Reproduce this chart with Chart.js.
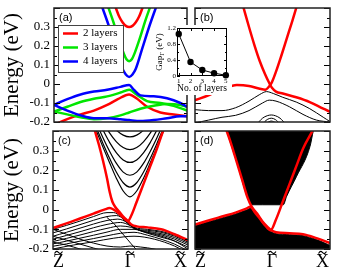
<!DOCTYPE html>
<html>
<head>
<meta charset="utf-8">
<script src="https://cdn.jsdelivr.net/npm/chart.js@4.4.0/dist/chart.umd.min.js"></script>
<style>
  html, body { margin: 0; padding: 0; background: #fff; }
  #wrap { position: relative; width: 340px; height: 273px; overflow: hidden; }
  canvas { position: absolute; }
</style>
</head>
<body>
<div id="wrap">
  <canvas id="pa" width="190" height="127" style="left:0;top:0"></canvas>
  <canvas id="pb" width="150" height="127" style="left:190px;top:0"></canvas>
  <canvas id="pc" width="190" height="146" style="left:0;top:127px"></canvas>
  <canvas id="pd" width="150" height="146" style="left:190px;top:127px"></canvas>
  <canvas id="inset" width="90" height="74" style="left:150px;top:22px"></canvas>
</div>
<script>
// k path Z~ -> Gamma~ -> X~, energies in eV
const kTicks = [0, 0.57, 1];
const kLetters = ['Z', '\u0393', 'X'];

const layerNames = ['2 layers', '3 layers', '4 layers'];
const layerColors = ['#ff0000', '#00e600', '#0000ff'];

// inset: gap at Gamma vs number of layers
const insetLayers = [1, 2, 3, 4, 5];
const insetGap = [1.05, 0.35, 0.15, 0.07, 0.02];

// (a) thin films, conduction + valence bands
const a2Cond = [[0.465,0.40],[0.49,0.355],[0.515,0.325],[0.54,0.306],[0.565,0.30],[0.59,0.306],[0.615,0.325],[0.64,0.355],[0.665,0.40]];
const a3Cond = [[0.405,0.41],[0.445,0.33],[0.485,0.24],[0.525,0.16],[0.545,0.13],[0.565,0.12],[0.585,0.13],[0.605,0.16],[0.645,0.24],[0.685,0.33],[0.725,0.41]];
const a4Cond = [[0.365,0.40],[0.415,0.30],[0.465,0.19],[0.515,0.08],[0.54,0.05],[0.565,0.037],[0.59,0.05],[0.615,0.08],[0.665,0.19],[0.715,0.30],[0.765,0.40]];
const a2Val = [[0,-0.215],[0.1,-0.185],[0.2,-0.16],[0.3,-0.14],[0.4,-0.11],[0.48,-0.08],[0.565,-0.055],[0.62,-0.075],[0.7,-0.12],[0.8,-0.15],[0.9,-0.16],[1.0,-0.17]];
const a3Val1 = [[0,-0.145],[0.1,-0.12],[0.2,-0.095],[0.3,-0.078],[0.4,-0.065],[0.5,-0.045],[0.565,-0.03],[0.62,-0.055],[0.7,-0.09],[0.8,-0.10],[0.9,-0.115],[1.0,-0.14]];
const a3Val2 = [[0,-0.145],[0.1,-0.16],[0.2,-0.175],[0.3,-0.185],[0.4,-0.18],[0.5,-0.165],[0.565,-0.15],[0.65,-0.13],[0.75,-0.115],[0.85,-0.105],[0.95,-0.11],[1.0,-0.12]];
const a4Val1 = [[0,-0.11],[0.1,-0.08],[0.2,-0.055],[0.3,-0.04],[0.4,-0.03],[0.5,-0.015],[0.565,-0.005],[0.6,-0.03],[0.65,-0.06],[0.75,-0.065],[0.85,-0.075],[0.95,-0.10],[1.0,-0.12]];
const a4Val2 = [[0,-0.11],[0.1,-0.14],[0.2,-0.165],[0.3,-0.18],[0.4,-0.18],[0.5,-0.185],[0.565,-0.19],[0.65,-0.195],[0.75,-0.19],[0.85,-0.18],[0.95,-0.17],[1.0,-0.17]];

// (b) surface states (red) and bulk bands (black)
const bRedA = [[0,-0.085],[0.1,-0.06],[0.2,-0.03],[0.31,-0.005],[0.4,-0.01],[0.48,-0.025],[0.52,-0.03],[0.55,-0.012],[0.57,0.01],[0.6,0.065],[0.64,0.15],[0.68,0.24],[0.72,0.33],[0.75,0.40]];
const bRedB = [[0.36,0.40],[0.40,0.30],[0.44,0.205],[0.48,0.12],[0.52,0.05],[0.55,0.005],[0.57,-0.02],[0.6,-0.04],[0.65,-0.05],[0.75,-0.07],[0.85,-0.095],[0.95,-0.13],[1.0,-0.146]];
const bBands = [
  [[0,-0.135],[0.1,-0.14],[0.2,-0.14],[0.3,-0.125],[0.4,-0.09],[0.48,-0.055],[0.53,-0.04],[0.58,-0.05],[0.65,-0.07],[0.75,-0.095],[0.85,-0.13],[0.95,-0.175],[1.0,-0.198]],
  [[0,-0.205],[0.1,-0.19],[0.2,-0.175],[0.3,-0.165],[0.4,-0.14],[0.5,-0.1],[0.55,-0.085],[0.6,-0.09],[0.7,-0.12],[0.8,-0.16],[0.9,-0.19],[1.0,-0.2]],
  [[0.46,-0.21],[0.5,-0.18],[0.535,-0.167],[0.565,-0.163],[0.595,-0.167],[0.63,-0.18],[0.67,-0.21]],
  [[0.5,-0.21],[0.535,-0.187],[0.565,-0.18],[0.595,-0.187],[0.63,-0.21]],
  [[0.53,-0.205],[0.565,-0.195],[0.6,-0.205]]
];

// (c) thicker slab
const cRedA = [[0,-0.093],[0.1,-0.07],[0.2,-0.045],[0.3,-0.02],[0.38,0.0],[0.42,0.008],[0.45,0.0],[0.48,-0.015],[0.52,-0.04],[0.555,-0.058],[0.58,-0.03],[0.62,0.04],[0.67,0.13],[0.72,0.22],[0.77,0.31],[0.815,0.40]];
const cRedB = [[0.311,0.40],[0.34,0.33],[0.37,0.25],[0.40,0.16],[0.42,0.09],[0.44,0.04],[0.46,0.015],[0.49,-0.01],[0.52,-0.035],[0.555,-0.058],[0.58,-0.075],[0.62,-0.085],[0.7,-0.09],[0.8,-0.10],[0.9,-0.125],[1.0,-0.155]];
const cCond = [
  [[0.32,0.402],[0.37,0.318],[0.42,0.237],[0.47,0.159],[0.52,0.095],[0.57,0.065],[0.62,0.095],[0.67,0.159],[0.72,0.237],[0.77,0.318],[0.82,0.402]],
  [[0.32,0.418],[0.37,0.337],[0.42,0.26],[0.47,0.19],[0.52,0.137],[0.57,0.115],[0.62,0.137],[0.67,0.19],[0.72,0.26],[0.77,0.337],[0.82,0.418]],
  [[0.32,0.442],[0.37,0.366],[0.42,0.296],[0.47,0.235],[0.52,0.191],[0.57,0.175],[0.62,0.191],[0.67,0.235],[0.72,0.296],[0.77,0.366],[0.82,0.442]],
  [[0.37,0.405],[0.42,0.341],[0.47,0.289],[0.52,0.253],[0.57,0.24],[0.62,0.253],[0.67,0.289],[0.72,0.341],[0.77,0.405]],
  [[0.37,0.449],[0.42,0.389],[0.47,0.345],[0.52,0.316],[0.57,0.305],[0.62,0.316],[0.67,0.345],[0.72,0.389],[0.77,0.449]],
  [[0.42,0.442],[0.47,0.404],[0.52,0.379],[0.57,0.37],[0.62,0.379],[0.67,0.404],[0.72,0.442]]
];
const cVal = [
  [[0,-0.10],[0.1,-0.08],[0.2,-0.058],[0.3,-0.035],[0.4,-0.015],[0.45,-0.015],[0.5,-0.035],[0.55,-0.07],[0.6,-0.09],[0.7,-0.1],[0.8,-0.11],[0.9,-0.13],[1.0,-0.16]],
  [[0,-0.118],[0.1,-0.098],[0.2,-0.076],[0.3,-0.054],[0.4,-0.035],[0.47,-0.03],[0.53,-0.05],[0.6,-0.095],[0.7,-0.105],[0.8,-0.115],[0.9,-0.135],[1.0,-0.165]],
  [[0,-0.135],[0.1,-0.115],[0.2,-0.094],[0.3,-0.073],[0.4,-0.055],[0.48,-0.048],[0.55,-0.065],[0.62,-0.1],[0.7,-0.11],[0.8,-0.122],[0.9,-0.142],[1.0,-0.172]],
  [[0,-0.15],[0.1,-0.131],[0.2,-0.112],[0.3,-0.092],[0.4,-0.075],[0.5,-0.065],[0.57,-0.08],[0.64,-0.105],[0.7,-0.115],[0.8,-0.128],[0.9,-0.15],[1.0,-0.18]],
  [[0,-0.162],[0.1,-0.146],[0.2,-0.129],[0.3,-0.111],[0.4,-0.095],[0.5,-0.083],[0.58,-0.09],[0.66,-0.11],[0.75,-0.125],[0.85,-0.145],[1.0,-0.19]],
  [[0,-0.174],[0.1,-0.16],[0.2,-0.145],[0.3,-0.13],[0.4,-0.114],[0.5,-0.1],[0.6,-0.1],[0.7,-0.12],[0.8,-0.14],[0.9,-0.16],[1.0,-0.2]],
  [[0,-0.186],[0.1,-0.174],[0.2,-0.16],[0.3,-0.147],[0.4,-0.133],[0.5,-0.12],[0.6,-0.115],[0.7,-0.13],[0.8,-0.15],[0.9,-0.175],[1.0,-0.21]],
  [[0,-0.2],[0.15,-0.18],[0.3,-0.163],[0.45,-0.145],[0.6,-0.135],[0.75,-0.15],[0.9,-0.185],[1.0,-0.22]],
  [[0,-0.1],[0.1,-0.125],[0.2,-0.15],[0.3,-0.17],[0.4,-0.185],[0.5,-0.19],[0.57,-0.185],[0.65,-0.19],[0.75,-0.2],[0.8,-0.21]],
  [[0,-0.135],[0.1,-0.155],[0.2,-0.175],[0.3,-0.195],[0.38,-0.21]],
  [[0,-0.165],[0.1,-0.18],[0.2,-0.2],[0.25,-0.21]],
  [[0.4,-0.04],[0.45,-0.07],[0.5,-0.11],[0.55,-0.15],[0.6,-0.19],[0.63,-0.21]]
];

// (d) thick slab: surface states over dense bulk continuum
const dRedA = [[0,-0.076],[0.1,-0.055],[0.2,-0.035],[0.3,-0.015],[0.38,0.005],[0.41,0.015],[0.44,-0.01],[0.48,-0.045],[0.52,-0.08],[0.56,-0.105],[0.6,-0.05],[0.65,0.04],[0.7,0.13],[0.75,0.22],[0.8,0.31],[0.87,0.40]];
const dRedB = [[0.235,0.40],[0.27,0.33],[0.31,0.24],[0.35,0.15],[0.39,0.06],[0.42,0.015],[0.46,-0.02],[0.50,-0.06],[0.54,-0.09],[0.565,-0.105],[0.6,-0.115],[0.7,-0.12],[0.8,-0.125],[0.9,-0.145],[1.0,-0.17]];
const dCondEdge = [[0.21,0.46],[0.235,0.40],[0.31,0.24],[0.39,0.06],[0.42,0.025],[0.5,0.025],[0.654,0.025],[0.679,0.068],[0.753,0.17],[0.852,0.322],[0.876,0.40],[0.9,0.46]];
const dValEdge = [[0,-0.082],[0.1,-0.062],[0.2,-0.042],[0.3,-0.022],[0.38,-0.002],[0.42,0.008],[0.45,-0.02],[0.5,-0.07],[0.54,-0.1],[0.565,-0.112],[0.6,-0.122],[0.7,-0.127],[0.8,-0.132],[0.9,-0.152],[1.0,-0.182]];

function pts(list) {
  return list.map(p => ({ x: p[0], y: p[1] }));
}

function curve(list, color, width) {
  return { data: pts(list), borderColor: color, borderWidth: width, pointRadius: 0, fill: false, clip: 0 };
}

function mass(list, to) {
  return { data: pts(list), borderColor: '#000', borderWidth: 1, backgroundColor: '#000', pointRadius: 0, fill: to, clip: 0 };
}

// small wavy accent drawn over a k-point letter
function tilde(ctx, cx, cy, w) {
  ctx.save();
  ctx.strokeStyle = '#000';
  ctx.lineWidth = 1.1;
  ctx.beginPath();
  ctx.moveTo(cx - w / 2, cy + 1);
  ctx.bezierCurveTo(cx - w / 4, cy - 2.2, cx - w / 8, cy - 1, cx, cy);
  ctx.bezierCurveTo(cx + w / 8, cy + 1, cx + w / 4, cy + 2.2, cx + w / 2, cy - 1);
  ctx.stroke();
  ctx.restore();
}

function framePlugin(o) {
  return {
    id: 'frame_' + o.tag.replace(/\W/g, ''),
    afterDatasetsDraw(chart) {
      const { ctx, chartArea: a } = chart;
      const y = chart.scales.y, x = chart.scales.x;
      ctx.save();
      ctx.strokeStyle = '#000';
      ctx.lineWidth = 1;
      ctx.beginPath();
      for (let i = 0; i <= 12; i++) {
        const p = Math.round(y.getPixelForValue(-0.2 + i * 0.05)) + 0.5;
        const len = i % 2 ? 3 : 6;
        ctx.moveTo(a.left, p); ctx.lineTo(a.left + len, p);
        ctx.moveTo(a.right, p); ctx.lineTo(a.right - len, p);
      }
      ctx.stroke();
      ctx.lineWidth = 1.5;
      ctx.strokeStyle = '#222';
      ctx.strokeRect(a.left, a.top, a.right - a.left, a.bottom - a.top);

      ctx.fillStyle = '#000';
      ctx.font = '11px "Liberation Sans"';
      ctx.textBaseline = 'top';
      ctx.fillText(o.tag, a.left + 5, a.top + 4);

      // k-point labels with a tilde on top, placed at the x scale ticks
      if (o.bottom) {
        ctx.textBaseline = 'alphabetic';
        ctx.font = '18px "Liberation Serif"';
        kTicks.forEach((k, i) => {
          const px = x.getPixelForValue(k);
          const w = ctx.measureText(kLetters[i]).width;
          let left = px - w / 2;
          if (i === 0) left = px;
          if (i === kTicks.length - 1) left = px - w - 1;
          ctx.fillText(kLetters[i], left, a.bottom + 18);
          tilde(ctx, left + w / 2, a.bottom + 3.5, 8);
        });
      }

      if (o.legend) {
        const bx = a.left + 4, by = a.top + 17;
        ctx.fillStyle = '#fff';
        ctx.fillRect(bx, by, 65, 47);
        ctx.lineWidth = 1;
        ctx.strokeStyle = '#444';
        ctx.strokeRect(bx + 0.5, by + 0.5, 65, 47);
        ctx.font = '11px "Liberation Serif"';
        ctx.textBaseline = 'middle';
        layerNames.forEach((name, i) => {
          const ly = by + 8.5 + i * 14;
          ctx.strokeStyle = layerColors[i];
          ctx.lineWidth = 2.5;
          ctx.beginPath();
          ctx.moveTo(bx + 5, ly); ctx.lineTo(bx + 20, ly);
          ctx.stroke();
          ctx.fillStyle = '#000';
          ctx.fillText(name, bx + 25, ly);
        });
      }
      ctx.restore();
    }
  };
}

function panel(id, datasets, o) {
  return new Chart(document.getElementById(id), {
    type: 'line',
    data: { datasets: datasets },
    options: {
      responsive: false,
      animation: false,
      events: [],
      layout: { padding: o.pad },
      elements: { line: { cubicInterpolationMode: 'monotone', borderCapStyle: 'round', borderJoinStyle: 'round' } },
      plugins: { legend: { display: false }, tooltip: { enabled: false } },
      scales: {
        x: {
          type: 'linear', min: 0, max: 1,
          grid: { display: false, drawTicks: false },
          border: { display: false },
          afterBuildTicks: s => { s.ticks = kTicks.map(v => ({ value: v })); },
          ticks: { display: false },
          afterFit: s => { s.height = o.xh; s.paddingLeft = 0; s.paddingRight = 0; }
        },
        y: {
          min: -0.2, max: 0.4,
          grid: { display: false, drawTicks: false },
          border: { display: false },
          ticks: {
            display: o.left, stepSize: 0.1, padding: 4, color: '#000', autoSkip: false,
            font: { family: 'Liberation Serif', size: 13 },
            callback: v => {
              const r = Math.round(v * 10) / 10;
              if (r >= 0.4) return '';
              return r === 0 ? '0' : r.toFixed(1);
            }
          },
          title: {
            display: o.left, text: 'Energy (eV)', color: '#000',
            font: { family: 'Liberation Serif', size: 21 }, padding: { top: 0, bottom: 0 }
          },
          afterFit: s => { s.width = o.yw; s.paddingTop = 0; s.paddingBottom = 0; }
        }
      }
    },
    plugins: [framePlugin(o)]
  });
}

// (a)
panel('pa', [
  curve(a4Cond, layerColors[2], 2.5),
  curve(a3Cond, layerColors[1], 2.5),
  curve(a2Cond, layerColors[0], 2.5),
  curve(a4Val1, layerColors[2], 2.5),
  curve(a4Val2, layerColors[2], 2.5),
  curve(a3Val1, layerColors[1], 2.5),
  curve(a3Val2, layerColors[1], 2.5),
  curve(a2Val, layerColors[0], 2.5)
], { tag: '(a)', legend: true, left: true, bottom: false, yw: 54, xh: 5, pad: { top: 8, right: 3, left: 0, bottom: 0 } });

// (b)
panel('pb', [
  curve(bRedA, '#ff0000', 2.5),
  curve(bRedB, '#ff0000', 2.5),
  ...bBands.map(b => curve(b, '#000', 1))
], { tag: '(b)', left: false, bottom: false, yw: 0, xh: 5, pad: { top: 8, right: 10, left: 5, bottom: 0 } });

// (c)
panel('pc', [
  curve(cRedA, '#ff0000', 2.5),
  curve(cRedB, '#ff0000', 2.5),
  ...cCond.map(b => curve(b, '#000', 1.2)),
  ...cVal.map(b => curve(b, '#000', 1))
], { tag: '(c)', left: true, bottom: true, yw: 53, xh: 24, pad: { top: 4, right: 2, left: 0, bottom: 0 } });

// (d)
panel('pd', [
  curve(dRedA, '#ff0000', 2.5),
  curve(dRedB, '#ff0000', 2.5),
  mass(dCondEdge, 'end'),
  mass(dValEdge, 'start')
], { tag: '(d)', left: false, bottom: true, yw: 0, xh: 24, pad: { top: 4, right: 10, left: 5, bottom: 0 } });

// inset
const insetPlugin = {
  id: 'insetFrame',
  beforeDraw(chart) {
    const ctx = chart.ctx;
    ctx.save();
    ctx.fillStyle = '#fff';
    ctx.fillRect(18, 3, 64, 70);
    ctx.restore();
  },
  afterDraw(chart) {
    const { ctx, chartArea: a, scales: { x, y } } = chart;
    ctx.save();
    ctx.strokeStyle = '#000';
    ctx.lineWidth = 1;
    ctx.beginPath();
    for (let i = 0; i <= 6; i++) {
      const p = Math.round(y.getPixelForValue(i * 0.2)) + 0.5;
      const len = i % 2 ? 2 : 3;
      ctx.moveTo(a.left, p); ctx.lineTo(a.left + len, p);
      ctx.moveTo(a.right, p); ctx.lineTo(a.right - len, p);
    }
    insetLayers.forEach(v => {
      const p = Math.round(x.getPixelForValue(v)) + 0.5;
      ctx.moveTo(p, a.bottom); ctx.lineTo(p, a.bottom - 3);
      ctx.moveTo(p, a.top); ctx.lineTo(p, a.top + 3);
    });
    ctx.stroke();
    ctx.strokeRect(a.left + 0.5, a.top + 0.5, a.right - a.left - 1, a.bottom - a.top - 1);
    // y title with subscript Gamma
    ctx.translate(10, (a.top + a.bottom) / 2);
    ctx.rotate(-Math.PI / 2);
    ctx.fillStyle = '#000';
    ctx.textBaseline = 'middle';
    const f1 = '9px "Liberation Serif"', f2 = '6.5px "Liberation Serif"';
    ctx.font = f1; const w1 = ctx.measureText('Gap').width; const w3 = ctx.measureText(' (eV)').width;
    ctx.font = f2; const w2 = ctx.measureText('\u0393').width;
    let xx = -(w1 + w2 + w3) / 2;
    ctx.font = f1; ctx.fillText('Gap', xx, 0); xx += w1;
    ctx.font = f2; ctx.fillText('\u0393', xx, 2.5); xx += w2;
    ctx.font = f1; ctx.fillText(' (eV)', xx, 0);
    ctx.restore();
  }
};

new Chart(document.getElementById('inset'), {
  type: 'line',
  data: {
    datasets: [{
      data: insetLayers.map((n, i) => ({ x: n, y: insetGap[i] })),
      borderColor: '#000', borderWidth: 1, backgroundColor: '#000',
      pointRadius: 3.2, pointBorderWidth: 0, tension: 0, clip: 4
    }]
  },
  options: {
    responsive: false,
    animation: false,
    events: [],
    layout: { padding: { top: 6, right: 13, left: 0, bottom: 0 } },
    plugins: { legend: { display: false }, tooltip: { enabled: false } },
    scales: {
      x: {
        type: 'linear', min: 0.85, max: 5.1,
        grid: { display: false, drawTicks: false },
        border: { display: false },
        afterBuildTicks: s => { s.ticks = insetLayers.map(v => ({ value: v })); },
        ticks: { padding: 1, autoSkip: false, maxRotation: 0, color: '#000', font: { family: 'Liberation Serif', size: 7 } },
        title: { display: true, text: 'No. of layers', color: '#000', font: { family: 'Liberation Serif', size: 11 }, padding: { top: 0, bottom: 1 } },
        afterFit: s => { s.height = 20; s.paddingLeft = 0; s.paddingRight = 0; }
      },
      y: {
        min: 0, max: 1.2,
        grid: { display: false, drawTicks: false },
        border: { display: false },
        ticks: {
          stepSize: 0.4, padding: 1, autoSkip: false, color: '#000', font: { family: 'Liberation Serif', size: 7 },
          callback: v => { const r = Math.round(v * 10) / 10; return r === 0 ? '0' : r.toFixed(1); }
        },
        afterFit: s => { s.width = 27; s.paddingTop = 0; s.paddingBottom = 0; }
      }
    }
  },
  plugins: [insetPlugin]
});
</script>
</body>
</html>
